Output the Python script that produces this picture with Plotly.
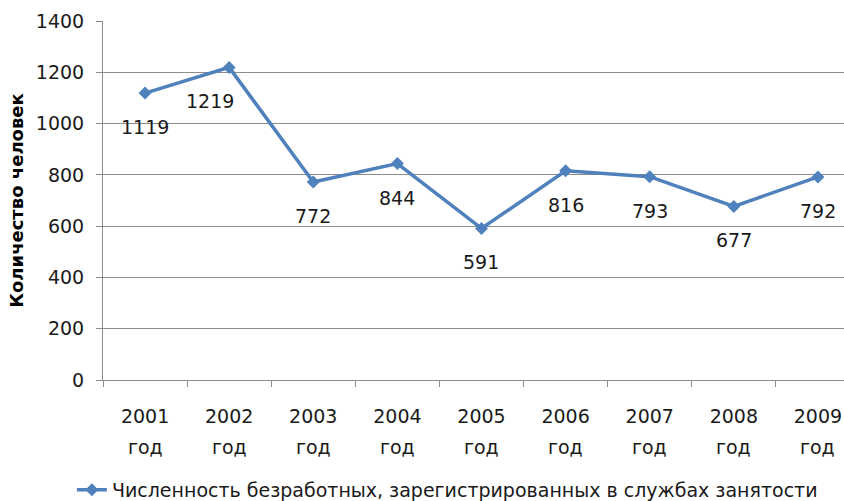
import plotly.graph_objects as go

years = ["2001", "2002", "2003", "2004", "2005", "2006", "2007", "2008", "2009"]
year_suffix = "год"
values = [1119, 1219, 772, 844, 591, 816, 793, 677, 792]
series_name = "Численность безработных, зарегистрированных в службах занятости"
y_title = "Количество человек"
y_ticks = [0, 200, 400, 600, 800, 1000, 1200, 1400]

FONT = "DejaVu Sans"
BLUE = "#4F81BD"
GRID = "#8C8C8C"
TXT = "#1a1a1a"

xs = list(range(len(years)))

fig = go.Figure()
fig.add_trace(go.Scatter(
    x=xs, y=values, mode="lines+markers", name=series_name,
    line=dict(color=BLUE, width=3.5),
    marker=dict(symbol="diamond", size=10, color=BLUE),
))

# data labels below each point (2002 label nudged left as in the reference)
for i, v in enumerate(values):
    fig.add_annotation(
        x=xs[i], y=v, text=str(v), showarrow=False,
        yshift=-34, xshift=(-19 if i == 1 else 0),
        font=dict(family=FONT, size=19, color=TXT),
    )

# second line of category labels
for i in xs:
    fig.add_annotation(
        x=i, xref="x", y=-0.1866, yref="paper", yanchor="middle",
        text=year_suffix, showarrow=False,
        font=dict(family=FONT, size=19, color=TXT),
    )

fig.update_layout(
    width=844, height=501,
    margin=dict(l=103, r=0, t=21, b=121, autoexpand=False),
    paper_bgcolor="white", plot_bgcolor="white",
    showlegend=True,
    legend=dict(orientation="h", x=-0.042, xanchor="left", y=-0.306, yanchor="middle",
                font=dict(family=FONT, size=19, color=TXT)),
    font=dict(family=FONT, color=TXT),
)

fig.update_xaxes(
    range=[-0.5, 8.31], automargin=False,
    tickmode="array", tickvals=xs, ticktext=years,
    ticks="", showgrid=False, zeroline=False,
    showline=True, linecolor=GRID, linewidth=1,
    tickfont=dict(family=FONT, size=19, color=TXT),
    ticklabelstandoff=19, ticklabeloverflow="allow",
    minor=dict(tickmode="linear", tick0=-0.5, dtick=1, ticks="outside", ticklen=6, tickcolor=GRID, showgrid=False),
)
fig.update_yaxes(
    range=[0, 1400], tickmode="array", tickvals=y_ticks, automargin=False,
    showgrid=True, gridcolor=GRID, gridwidth=1,
    zeroline=False, showline=True, linecolor=GRID, linewidth=1,
    ticks="outside", ticklen=6, tickcolor=GRID,
    tickfont=dict(family=FONT, size=19, color=TXT),
    ticklabelstandoff=8,
    title=dict(text=f"<b>{y_title}</b>", font=dict(family=FONT, size=18, color="#000000"), standoff=7),
)

# remove the default page margin so the 844x501 figure fills the window exactly
fig.write_html("out.html", config={"displayModeBar": False},
               post_script="document.body.style.margin='0';")
